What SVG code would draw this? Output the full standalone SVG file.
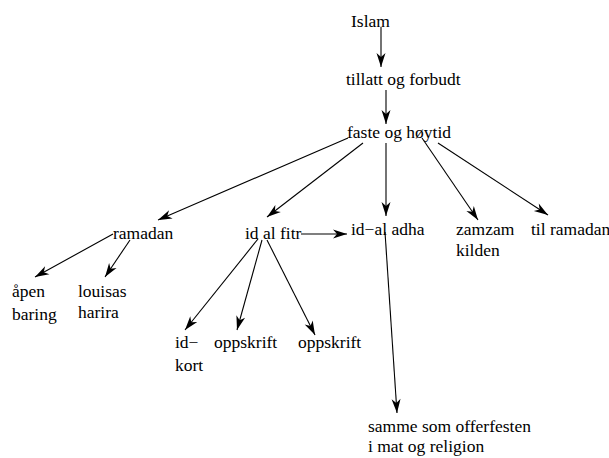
<svg xmlns="http://www.w3.org/2000/svg" width="609" height="458" viewBox="0 0 609 458">
  <style>
    .lbl text { font-family: 'Liberation Serif', 'Times New Roman', Times, 'DejaVu Serif', serif; font-size: 17.5px; fill: #000; }
    .edge { stroke: #000; stroke-width: 1.1; fill: none; marker-end: url(#arrow); }
  </style>
  <defs>
    <marker id="arrow" viewBox="-15 -5 16 10" refX="0" refY="0" markerWidth="16" markerHeight="10" markerUnits="userSpaceOnUse" orient="auto">
      <path d="M0,0 L-14,-4.5 L-10,0 L-14,4.5 Z" fill="#000"/>
    </marker>
  </defs>
  <rect width="609" height="458" fill="#fff"/>

  <g id="connectors">
    <line class="edge" x1="381" y1="27" x2="381" y2="67"/>
    <line class="edge" x1="386" y1="90" x2="386" y2="124"/>
    <line class="edge" x1="348" y1="138" x2="158" y2="220"/>
    <line class="edge" x1="363" y1="143" x2="267" y2="217"/>
    <line class="edge" x1="386" y1="143" x2="386" y2="216"/>
    <line class="edge" x1="422" y1="138" x2="478" y2="220"/>
    <line class="edge" x1="438" y1="143" x2="548" y2="215"/>
    <line class="edge" x1="113" y1="234" x2="35" y2="277"/>
    <line class="edge" x1="130" y1="240" x2="105" y2="277"/>
    <line class="edge" x1="301" y1="234" x2="347" y2="234"/>
    <line class="edge" x1="258" y1="239" x2="185" y2="330"/>
    <line class="edge" x1="262" y1="240" x2="237" y2="330"/>
    <line class="edge" x1="267" y1="240" x2="315" y2="335"/>
    <line class="edge" x1="385" y1="232" x2="397" y2="413"/>
  </g>

  <g class="lbl" font-family="Liberation Serif, serif">
    <g id="islam"><text x="351" y="27">Islam</text></g>
    <g id="tillatt"><text x="346" y="85">tillatt og forbudt</text></g>
    <g id="faste"><text x="347" y="138">faste og høytid</text></g>
    <g id="ramadan"><text x="113" y="239">ramadan</text></g>
    <g id="id-al-fitr"><text x="245" y="239">id al fitr</text></g>
    <g id="id-al-adha"><text x="351" y="235">id−al adha</text></g>
    <g id="zamzam"><text x="456" y="235">zamzam</text><text x="456" y="256">kilden</text></g>
    <g id="til-ramadan"><text x="531" y="235">til ramadan</text></g>
    <g id="apen"><text x="12" y="297">åpen</text><text x="12" y="320">baring</text></g>
    <g id="louisas"><text x="78" y="297">louisas</text><text x="78" y="318">harira</text></g>
    <g id="id-kort"><text x="175" y="348">id−</text><text x="175" y="371">kort</text></g>
    <g id="oppskrift1"><text x="214" y="348">oppskrift</text></g>
    <g id="oppskrift2"><text x="298" y="348">oppskrift</text></g>
    <g id="samme"><text x="368" y="432">samme som offerfesten</text><text x="368" y="452">i mat og religion</text></g>
  </g>
</svg>
